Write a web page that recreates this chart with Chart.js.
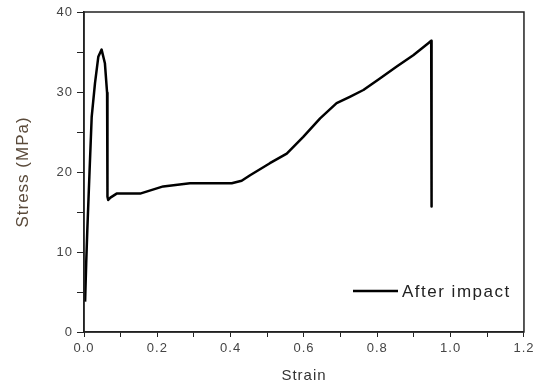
<!DOCTYPE html>
<html>
<head>
<meta charset="utf-8">
<script src="https://cdn.jsdelivr.net/npm/chart.js@4/dist/chart.umd.min.js"></script>
<style>
  html, body { margin: 0; padding: 0; background: #fff; }
  #wrap { width: 537px; height: 389px; }
</style>
</head>
<body>
<div id="wrap"><canvas id="grafico"></canvas></div>
<script>
// dados
const strain = [0.003, 0.006, 0.009, 0.015, 0.021, 0.030, 0.039, 0.048, 0.057, 0.063, 0.064, 0.066, 0.072, 0.089,
    0.153, 0.216, 0.289, 0.403, 0.43, 0.453, 0.507, 0.553, 0.598, 0.644, 0.689, 0.725, 0.762, 0.807,
    0.853, 0.898, 0.939, 0.947, 0.948];
const stress = [3.8, 8.6, 12.7, 19.9, 26.9, 31.1, 34.4, 35.3, 33.6, 29.9, 16.9, 16.5, 16.8, 17.3,
    17.3, 18.2, 18.6, 18.6, 18.9, 19.6, 21.1, 22.3, 24.4, 26.7, 28.6, 29.4, 30.25, 31.7,
    33.2, 34.6, 36.1, 36.4, 15.7];
const serieNome = "After impact";
const xTitulo = "Strain";
const yTitulo = "Stress (MPa)";

const corTexto = "#444";
const fonte = "'Liberation Sans', Arial, sans-serif";

// espaçamento entre letras, como no original
const espacamento = {
    id: "espacamento",
    beforeDraw(chart) {
        chart.ctx.letterSpacing = "1px";
    }
};

// moldura (topo e direita)
const moldura = {
    id: "moldura",
    afterDraw(chart) {
        const { ctx, chartArea: a } = chart;
        ctx.save();
        ctx.strokeStyle = "#222";
        ctx.lineWidth = 1.5;
        ctx.strokeRect(a.left, a.top, a.right - a.left, a.bottom - a.top);
        ctx.restore();
    }
};

// legenda dentro da área
const legenda = {
    id: "legenda",
    afterDraw(chart) {
        const { ctx, chartArea: a } = chart;
        const y = a.bottom - 41;
        const x0 = a.left + 269;
        ctx.save();
        ctx.strokeStyle = "#000";
        ctx.lineWidth = 2.5;
        ctx.beginPath();
        ctx.moveTo(x0, y);
        ctx.lineTo(x0 + 45, y);
        ctx.stroke();
        ctx.fillStyle = "#222";
        ctx.font = "17px " + fonte;
        ctx.letterSpacing = "1.5px";
        ctx.textBaseline = "middle";
        ctx.fillText(chart.data.datasets[0].label, x0 + 49, y + 1);
        ctx.restore();
    }
};

new Chart(document.getElementById("grafico").getContext("2d"), {
    type: "scatter",
    data: {
        datasets: [{
            label: serieNome,
            data: strain.map((s, i) => ({ x: s, y: stress[i] })),
            showLine: true,
            borderColor: "#000",
            borderWidth: 2.5,
            borderJoinStyle: "round",
            pointRadius: 0,
            tension: 0
        }]
    },
    options: {
        responsive: true,
        maintainAspectRatio: false,
        animation: false,
        layout: { padding: { top: 12, right: 13, left: 0, bottom: 0 } },
        plugins: {
            legend: { display: false },
            tooltip: { enabled: false }
        },
        scales: {
            x: {
                min: 0, max: 1.2,
                border: { color: "#222", width: 1.5 },
                grid: { drawOnChartArea: false, drawTicks: true, tickLength: 5, color: "#222" },
                ticks: {
                    stepSize: 0.1,
                    color: corTexto,
                    font: { family: fonte, size: 13 },
                    padding: 4,
                    maxRotation: 0,
                    autoSkip: false,
                    callback: (v, i) => i % 2 === 0 ? v.toFixed(1) : ""
                },
                title: {
                    display: true, text: xTitulo, color: "#333",
                    font: { family: fonte, size: 15 },
                    padding: { top: 10 }
                },
                afterFit: s => { s.height = 57; }
            },
            y: {
                min: 0, max: 40,
                border: { color: "#222", width: 1.5 },
                grid: { drawOnChartArea: false, drawTicks: true, tickLength: 7, color: "#222" },
                ticks: {
                    stepSize: 5,
                    color: corTexto,
                    font: { family: fonte, size: 13 },
                    padding: 4,
                    autoSkip: false,
                    callback: (v, i) => i % 2 === 0 ? v : ""
                },
                title: {
                    display: true, text: yTitulo, color: "#5a4a3a",
                    font: { family: fonte, size: 17 },
                    padding: { top: 13, bottom: 4 }
                },
                afterFit: s => { s.width = 84; }
            }
        }
    },
    plugins: [espacamento, moldura, legenda]
});
</script>
</body>
</html>
